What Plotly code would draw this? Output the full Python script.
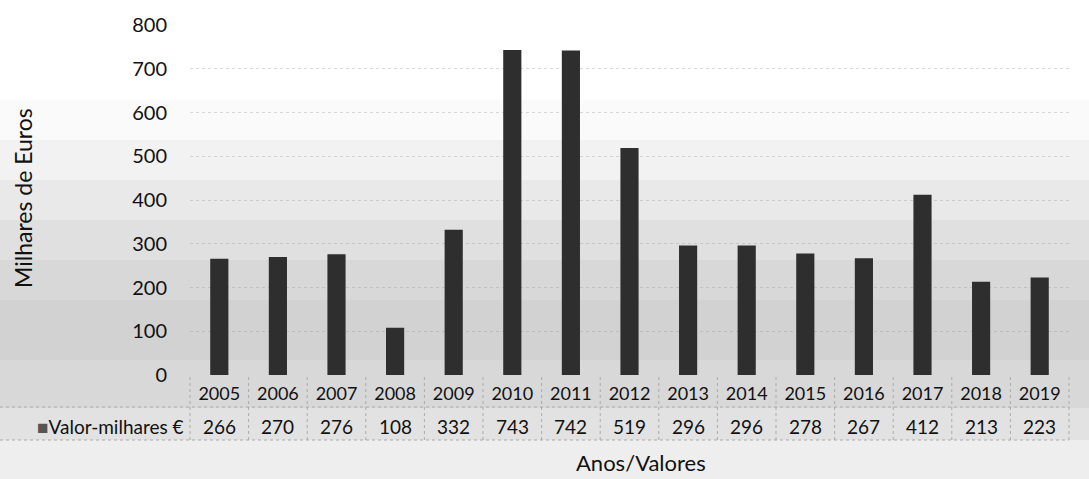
import plotly.graph_objects as go

years = [str(y) for y in range(2005, 2020)]
values = [266, 270, 276, 108, 332, 743, 742, 519, 296, 296, 278, 267, 412, 213, 223]
series_name = "Valor-milhares €"
y_ticks = [0, 100, 200, 300, 400, 500, 600, 700, 800]

W, H = 1089, 479
L, R, T, B = 190, 20, 25, 104
plot_h = H - T - B
plot_w = W - L - R

def py(pix):
    """pixel y (from top) -> paper y"""
    return (H - B - pix) / plot_h

def px(pix):
    return (pix - L) / plot_w

FONT = "Lato, Open Sans, sans-serif"

fig = go.Figure()
fig.add_trace(go.Bar(
    x=years, y=values, name=series_name,
    marker=dict(color="#2e2e2e", line=dict(width=0)),
    showlegend=False,
))

# gradient-like background made of horizontal bands
bands = [
    (0, 100, "#ffffff"), (100, 140, "#fafafa"), (140, 180, "#f2f2f2"),
    (180, 220, "#e9e9e9"), (220, 260, "#e0e0e0"), (260, 300, "#d8d8d8"),
    (300, 360, "#d2d2d2"), (360, 408, "#d8d8d8"), (408, 440, "#e2e2e2"),
    (440, 479, "#eeeeee"),
]
shapes = []
for y0, y1, c in bands:
    shapes.append(dict(type="rect", xref="paper", yref="paper",
                       x0=px(0), x1=px(W), y0=py(y1), y1=py(y0),
                       fillcolor=c, line=dict(width=0), layer="below"))

# data table grid lines
n = len(years)
for i in range(n + 1):
    xp = i / n
    shapes.append(dict(type="line", xref="paper", yref="paper",
                       x0=xp, x1=xp, y0=py(440), y1=0,
                       line=dict(color="#aaaaaa", width=1, dash="dot"), layer="below"))
for yy in [407, 440]:
    shapes.append(dict(type="line", xref="paper", yref="paper",
                       x0=px(0), x1=1, y0=py(yy), y1=py(yy),
                       line=dict(color="#aaaaaa", width=1, dash="dot"), layer="below"))

annotations = []
for i, v in enumerate(values):
    annotations.append(dict(x=(i + 0.5) / n, xref="paper", y=py(426), yref="paper",
                            text=str(v), showarrow=False,
                            font=dict(family=FONT, size=19, color="#111"),
                            xanchor="center", yanchor="middle"))
annotations.append(dict(x=px(186), xref="paper", y=py(426), yref="paper",
                        text="<span style='color:#555'>■</span>" + series_name,
                        showarrow=False, xanchor="right", yanchor="middle",
                        font=dict(family=FONT, size=19, color="#111")))
annotations.append(dict(x=px(641), xref="paper", y=py(462), yref="paper",
                        text="Anos/Valores", showarrow=False,
                        xanchor="center", yanchor="middle",
                        font=dict(family=FONT, size=22, color="#111")))
annotations.append(dict(x=px(23), xref="paper", y=py(198), yref="paper",
                        text="Milhares de Euros", showarrow=False, textangle=-90,
                        xanchor="center", yanchor="middle",
                        font=dict(family=FONT, size=23, color="#111")))

fig.update_layout(
    width=W, height=H,
    margin=dict(l=L, r=R, t=T, b=B, pad=0),
    paper_bgcolor="white", plot_bgcolor="rgba(0,0,0,0)",
    bargap=0.69,
    shapes=shapes, annotations=annotations,
    font=dict(family=FONT, size=16, color="#111"),
    xaxis=dict(type="category", range=[-0.5, n - 0.5],
               showgrid=False, showline=False, zeroline=False,
               ticks="outside", ticklen=2, tickcolor="rgba(0,0,0,0)",
               tickfont=dict(family=FONT, size=18, color="#111")),
    yaxis=dict(range=[0, 800], tickvals=y_ticks, showgrid=True,
               gridcolor="rgba(150,150,150,0.35)", gridwidth=1, griddash="dot",
               zeroline=False, showline=False,
               ticks="outside", ticklen=18, tickcolor="rgba(0,0,0,0)",
               tickfont=dict(family=FONT, size=20, color="#111")),
)

fig.write_html("out.html", config={"displayModeBar": False},
               post_script="document.body.style.margin='0';")
